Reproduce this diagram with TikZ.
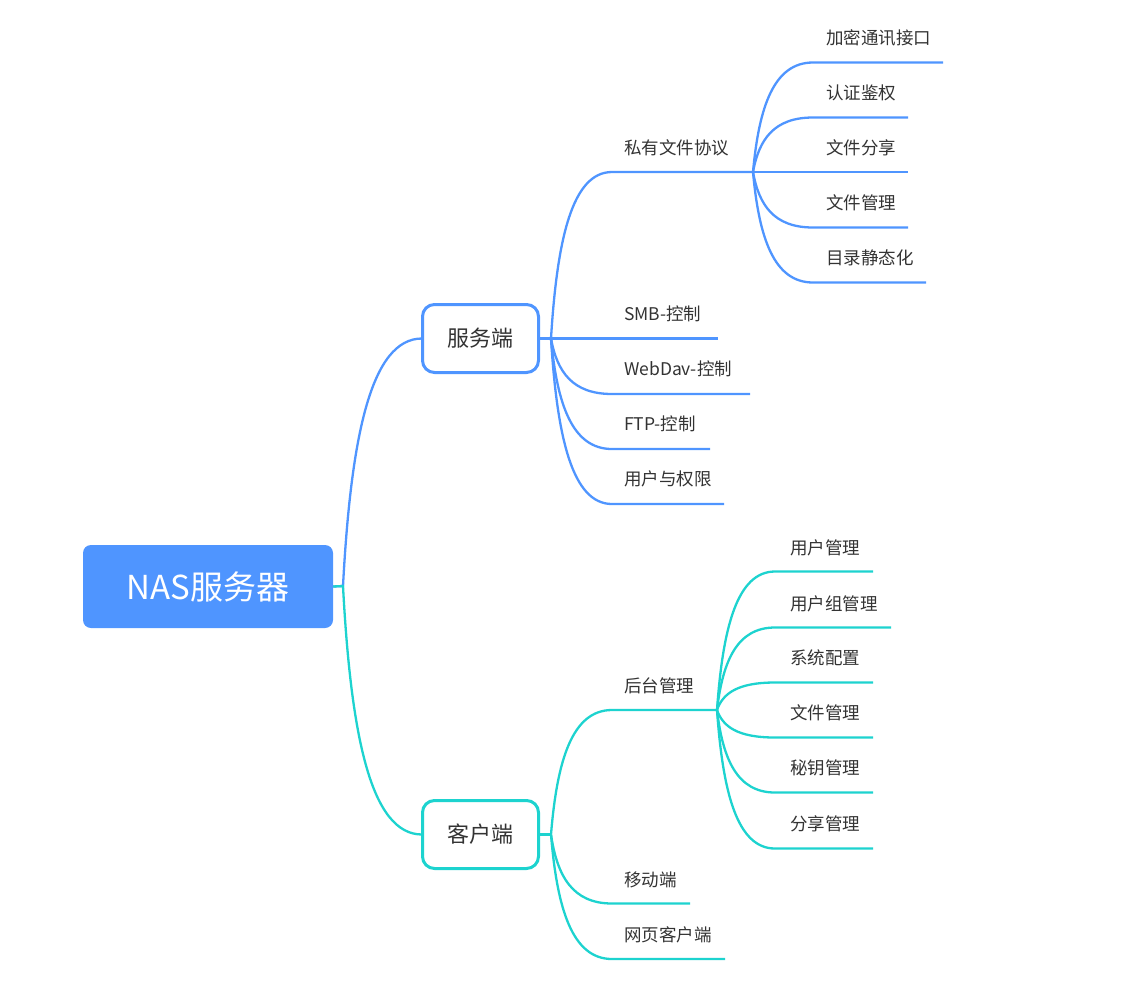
\documentclass[tikz,border=0pt]{standalone}
\usepackage{fontspec}
\setmainfont{Noto Sans CJK SC}
\usetikzlibrary{calc}
\definecolor{cblue}{HTML}{4F95FF}
\definecolor{ccyan}{HTML}{1DD3CF}
\definecolor{ctext}{HTML}{333333}
\tikzset{
  bcurve/.style={to path={let \p1=(\tikztostart), \p2=(\tikztotarget) in
      .. controls (\x1+0.1*\x2-0.1*\x1, \y1+0.6*\y2-0.6*\y1) and (\x1+0.35*\x2-0.35*\x1, \y2) .. (\tikztotarget)}},
  topic/.style={anchor=west, text=ctext, inner sep=0pt, font=\fontsize{17.5}{20}\selectfont},
  rootbox/.style={rectangle, rounded corners=8pt, fill=cblue, text=white, minimum width=250pt, minimum height=83pt, inner sep=0pt, font=\fontsize{33}{36}\selectfont},
  subbox/.style={rectangle, rounded corners=12pt, fill=white, line width=3pt, minimum width=116pt, minimum height=68pt, inner sep=0pt, text=ctext, font=\fontsize{22}{26}\selectfont},
  bl/.style={draw=cblue, line width=2.3pt},
  cl/.style={draw=ccyan, line width=2.3pt},
}
\begin{document}
\begin{tikzpicture}[x=1pt,y=-1pt]
\useasboundingbox (0,0) rectangle (1142,991);
% main nodes
\node[rootbox] (root) at (208,586.5) {NAS服务器};
\node[subbox, draw=cblue] (srv) at (480.5,338.5) {服务端};
\node[subbox, draw=ccyan] (cli) at (480.5,834.5) {客户端};
% hub coordinates
\coordinate (rs) at (343,586);
\coordinate (srvin) at (422,338.5);
\coordinate (cliin) at (422,834.5);
\coordinate (ss) at (551,338.5);
\coordinate (cs) at (551,834.5);
% root connectors
\draw[bl] (root.east) -- (rs) to[bcurve] (srvin);
\draw[cl] (root.east) -- (rs) to[bcurve] (cliin);
\draw[bl] (srv.east) -- (ss);
\draw[cl] (cli.east) -- (cs);

% ---- server side level 1
\coordinate (p1s) at (612,172); \coordinate (p1e) at (753,172);
\coordinate (smbe) at (718,338.5);
\coordinate (wds) at (612,394); \coordinate (wde) at (750,394);
\coordinate (ftps) at (612,449); \coordinate (ftpe) at (710,449);
\coordinate (ups) at (612,504); \coordinate (upe) at (724,504);
\draw[bl] (ss) to[bcurve] (p1s) -- (p1e);
\draw[bl] (ss) -- (smbe);
\draw[bl] (ss) to[bcurve] (wds) -- (wde);
\draw[bl] (ss) to[bcurve] (ftps) -- (ftpe);
\draw[bl] (ss) to[bcurve] (ups) -- (upe);
\node[topic] (t-p1) at (624,148) {私有文件协议};
\node[topic] (t-smb) at (624,314) {SMB-控制};
\node[topic] (t-wd) at (624,369) {WebDav-控制};
\node[topic] (t-ftp) at (624,424) {FTP-控制};
\node[topic] (t-up) at (624,479) {用户与权限};

% ---- server side level 2
\coordinate (g1s) at (813,62.5); \coordinate (g1e) at (943,62.5);
\coordinate (g2s) at (813,117.5); \coordinate (g2e) at (908,117.5);
\coordinate (g3e) at (908,172);
\coordinate (g4s) at (813,227.5); \coordinate (g4e) at (908,227.5);
\coordinate (g5s) at (813,282.5); \coordinate (g5e) at (926,282.5);
\draw[bl] (p1e) to[bcurve] (g1s) -- (g1e);
\draw[bl] (p1e) to[bcurve] (g2s) -- (g2e);
\draw[bl] (p1e) -- (g3e);
\draw[bl] (p1e) to[bcurve] (g4s) -- (g4e);
\draw[bl] (p1e) to[bcurve] (g5s) -- (g5e);
\node[topic] (t-g1) at (826,38) {加密通讯接口};
\node[topic] (t-g2) at (826,93) {认证鉴权};
\node[topic] (t-g3) at (826,148) {文件分享};
\node[topic] (t-g4) at (826,203) {文件管理};
\node[topic] (t-g5) at (826,258) {目录静态化};

% ---- client side level 1
\coordinate (hts) at (612,710); \coordinate (hte) at (717,710);
\coordinate (mbs) at (612,903.5); \coordinate (mbe) at (690,903.5);
\coordinate (wcs) at (612,959); \coordinate (wce) at (725,959);
\draw[cl] (cs) to[bcurve] (hts) -- (hte);
\draw[cl] (cs) to[bcurve] (mbs) -- (mbe);
\draw[cl] (cs) to[bcurve] (wcs) -- (wce);
\node[topic] (t-ht) at (624,686) {后台管理};
\node[topic] (t-mb) at (624,880) {移动端};
\node[topic] (t-wc) at (624,935) {网页客户端};

% ---- client side level 2
\coordinate (h1s) at (775,571.5); \coordinate (h1e) at (873,571.5);
\coordinate (h2s) at (775,627.5); \coordinate (h2e) at (891,627.5);
\coordinate (h3s) at (775,682.5); \coordinate (h3e) at (873,682.5);
\coordinate (h4s) at (775,737.5); \coordinate (h4e) at (873,737.5);
\coordinate (h5s) at (775,792.5); \coordinate (h5e) at (873,792.5);
\coordinate (h6s) at (775,848.5); \coordinate (h6e) at (873,848.5);
\foreach \i in {1,...,6} {\draw[cl] (hte) to[bcurve] (h\i s) -- (h\i e);}
\node[topic] (t-h1) at (790,548) {用户管理};
\node[topic] (t-h2) at (790,604) {用户组管理};
\node[topic] (t-h3) at (790,658) {系统配置};
\node[topic] (t-h4) at (790,713) {文件管理};
\node[topic] (t-h5) at (790,768) {秘钥管理};
\node[topic] (t-h6) at (790,824) {分享管理};
\end{tikzpicture}
\end{document}
